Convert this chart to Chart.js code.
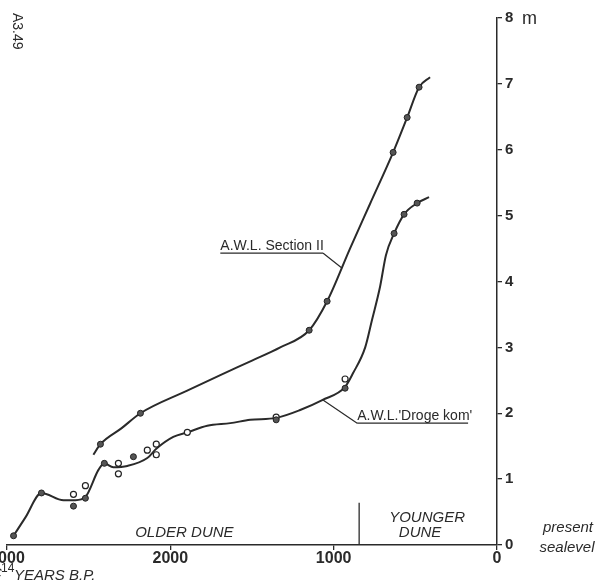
<!DOCTYPE html>
<html>
<head>
<meta charset="utf-8">
<script src="https://cdn.jsdelivr.net/npm/chart.js@4.4.1/dist/chart.umd.min.js"></script>
<style>
  html, body { margin: 0; padding: 0; background: #fff; }
  #wrap { width: 603px; height: 582px; position: relative; }
</style>
</head>
<body>
<div id="wrap"><canvas id="myChart" width="603" height="582"></canvas></div>
<script>
// years B.P. on x, height above present sealevel (m) on y
const sectionCurveYears   = [2471, 2428, 2300, 2183, 1900, 1694, 1500, 1327, 1150, 1040, 900, 777, 636, 550, 477, 410];
const sectionCurveHeights = [1.37, 1.53, 1.77, 2.00, 2.34, 2.58, 2.80, 3.00, 3.26, 3.70, 4.50, 5.18, 5.96, 6.49, 6.95, 7.10];
const sectionPtYears   = [2428, 2183, 1150, 1040, 636, 550, 477];
const sectionPtHeights = [1.53, 2.00, 3.26, 3.70, 5.96, 6.49, 6.95];

const drogeCurveYears   = [2960, 2887, 2789, 2654, 2581, 2520, 2440, 2404, 2349, 2263, 2141, 2086, 1982, 1896, 1774, 1633, 1511, 1352, 1205, 1070, 930, 881, 807, 765, 716, 680, 630, 569, 489, 416];
const drogeCurveHeights = [0.14, 0.42, 0.79, 0.68, 0.68, 0.73, 1.14, 1.24, 1.18, 1.20, 1.32, 1.46, 1.64, 1.71, 1.81, 1.85, 1.90, 1.93, 2.05, 2.20, 2.40, 2.61, 3.00, 3.42, 3.92, 4.40, 4.73, 5.02, 5.19, 5.28];
const drogeFilledYears   = [2960, 2789, 2593, 2520, 2404, 2226, 1352, 930, 630, 569, 489];
const drogeFilledHeights = [0.14, 0.79, 0.59, 0.71, 1.24, 1.34, 1.90, 2.38, 4.73, 5.02, 5.19];
const drogeOpenYears   = [2593, 2520, 2318, 2318, 2141, 2086, 2086, 1896, 1352, 930];
const drogeOpenHeights = [0.77, 0.90, 1.24, 1.08, 1.44, 1.53, 1.37, 1.71, 1.94, 2.52];

const dividerYears   = [844, 844];
const dividerHeights = [0, 0.64];

const xTickLabels = ['3000', '2000', '1000', '0'];
const xTickValues = [3000, 2000, 1000, 0];

const ink = '#2a2a2a';
const pts = (xs, ys) => xs.map((x, i) => ({x: x, y: ys[i]}));

const labelsPlugin = {
  id: 'figureText',
  afterDraw(chart) {
    const c = chart.ctx;
    const xs = chart.scales.x, ys = chart.scales.y;
    const X = v => xs.getPixelForValue(v), Y = v => ys.getPixelForValue(v);
    c.save();
    c.fillStyle = ink;
    c.strokeStyle = ink;

    // x tick labels
    c.font = 'bold 16px "Liberation Sans", Arial, sans-serif';
    c.textAlign = 'center';
    c.textBaseline = 'alphabetic';
    xTickValues.forEach((v, i) => c.fillText(xTickLabels[i], X(v), 563));

    // axis title
    c.textAlign = 'left';
    c.font = 'italic 15px "Liberation Sans", Arial, sans-serif';
    c.fillText('C', -9, 578);
    c.font = '12px "Liberation Sans", Arial, sans-serif';
    c.fillText('14', 1, 572);
    c.font = 'italic 15px "Liberation Sans", Arial, sans-serif';
    c.fillText('YEARS B.P.', 14, 580);

    // unit
    c.font = '18px "Liberation Sans", Arial, sans-serif';
    c.fillText('m', 522, Y(8) + 6);

    // zone labels
    c.font = 'italic 15px "Liberation Sans", Arial, sans-serif';
    c.textAlign = 'center';
    c.fillText('OLDER DUNE', X(1914), Y(0.12));
    c.fillText('YOUNGER', X(428), Y(0.35));
    c.fillText('DUNE', X(471), Y(0.12));
    c.fillText('present', 568, Y(0) - 13);
    c.fillText('sealevel', 567, Y(0) + 7);

    // curve names with underline and leader
    c.font = '14px "Liberation Sans", Arial, sans-serif';
    c.lineWidth = 1.2;
    const names = [
      {text: 'A.W.L. Section II', x0: 1694, x1: 1064, y: 4.43, tx: 948, ty: 4.20, leaderFromEnd: true},
      {text: "A.W.L.'Droge kom'", x0: 856, x1: 177, y: 1.85, tx: 1070, ty: 2.21, leaderFromEnd: false}
    ];
    names.forEach(n => {
      const a = X(n.x0), b = X(n.x1), yy = Y(n.y);
      c.textAlign = 'left';
      c.fillText(n.text, a, yy - 3);
      c.beginPath();
      c.moveTo(a, yy); c.lineTo(b, yy);
      const s = n.leaderFromEnd ? b : a;
      c.moveTo(s, yy); c.lineTo(X(n.tx), Y(n.ty));
      c.stroke();
    });

    // figure number
    c.translate(11, 13);
    c.rotate(Math.PI / 2);
    c.font = '14px "Liberation Sans", Arial, sans-serif';
    c.textAlign = 'left';
    c.fillText('A3.49', 0, -2);
    c.restore();
  }
};

const curveStyle = {showLine: true, cubicInterpolationMode: 'monotone', borderColor: ink, borderWidth: 2, pointRadius: 0, order: 2};

new Chart(document.getElementById('myChart'), {
  type: 'scatter',
  data: {
    datasets: [
      Object.assign({data: pts(sectionCurveYears, sectionCurveHeights)}, curveStyle),
      Object.assign({data: pts(drogeCurveYears, drogeCurveHeights)}, curveStyle),
      {data: pts(dividerYears, dividerHeights), showLine: true, tension: 0, borderColor: ink, borderWidth: 1.3, pointRadius: 0, order: 2},
      {data: pts(sectionPtYears, sectionPtHeights), pointRadius: 3, backgroundColor: '#555', borderColor: '#222', borderWidth: 1, order: 0},
      {data: pts(drogeFilledYears, drogeFilledHeights), pointRadius: 3, backgroundColor: '#555', borderColor: '#222', borderWidth: 1, order: 0},
      {data: pts(drogeOpenYears, drogeOpenHeights), pointRadius: 3, backgroundColor: '#fff', borderColor: '#222', borderWidth: 1.2, order: 0}
    ]
  },
  options: {
    responsive: false,
    animation: false,
    layout: {padding: {left: 7, top: 18, right: 0, bottom: 0}},
    plugins: {legend: {display: false}, tooltip: {enabled: false}},
    scales: {
      x: {
        type: 'linear', min: 0, max: 3000, reverse: true,
        ticks: {display: false, stepSize: 1000},
        grid: {drawOnChartArea: false, tickLength: 5, color: ink, lineWidth: 1.3},
        border: {display: true, color: ink, width: 1.5},
        afterFit: s => { s.height = 37; }
      },
      y: {
        type: 'linear', position: 'right', min: 0, max: 8,
        ticks: {stepSize: 1, padding: 3, color: ink, font: {family: '"Liberation Sans", Arial, sans-serif', size: 15, weight: 'bold'}},
        grid: {drawOnChartArea: false, tickLength: 5, color: ink, lineWidth: 1.3},
        border: {display: true, color: ink, width: 1.5},
        afterFit: s => { s.width = 106; }
      }
    }
  },
  plugins: [labelsPlugin]
});
</script>
</body>
</html>
